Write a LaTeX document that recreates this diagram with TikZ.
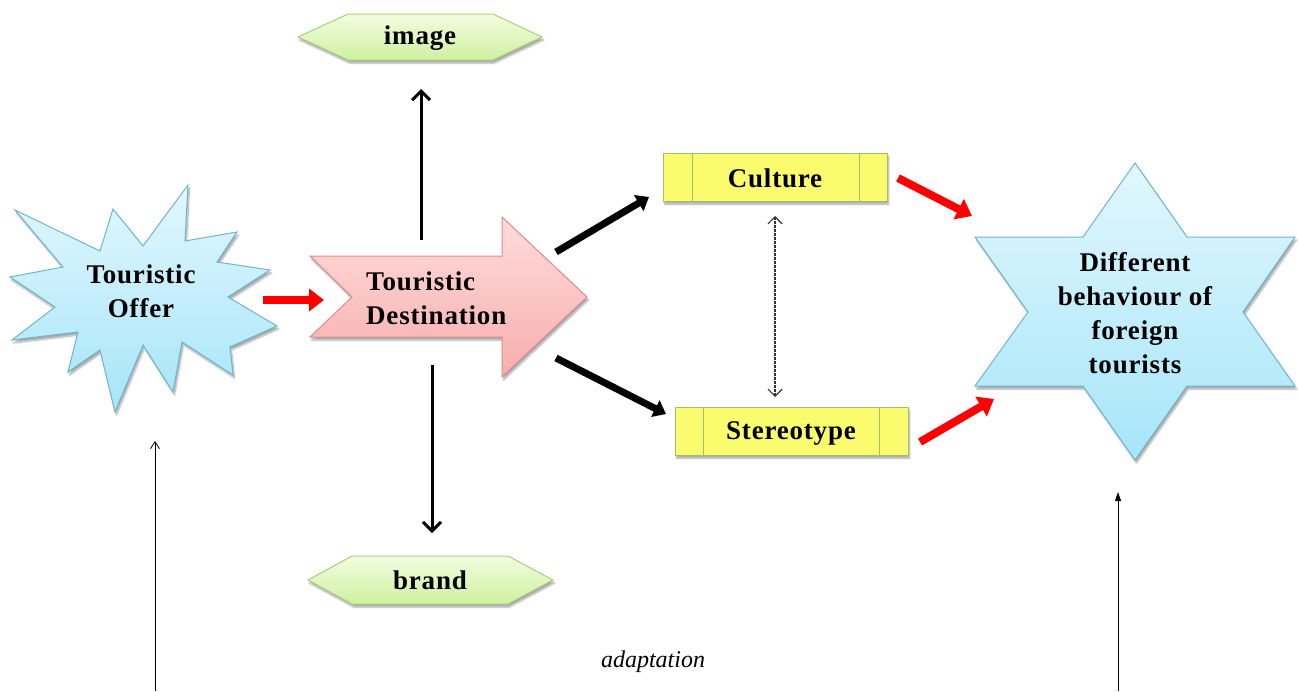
\documentclass[tikz,border=0pt]{standalone}
\usepackage{fontspec}
\setmainfont{Liberation Serif}
\usetikzlibrary{arrows.meta,shadows.blur}
\definecolor{blueTop}{HTML}{E2F7FE}
\definecolor{blueBot}{HTML}{A6E5F8}
\definecolor{blueLine}{HTML}{6DB6CE}
\definecolor{pinkTop}{HTML}{FFDCDC}
\definecolor{pinkBot}{HTML}{F7ADAD}
\definecolor{pinkLine}{HTML}{E08A8A}
\definecolor{greenTop}{HTML}{F2FDE0}
\definecolor{greenBot}{HTML}{CFF0A0}
\definecolor{greenLine}{HTML}{A9CF78}
\definecolor{yel}{HTML}{FBFB6E}
\definecolor{yelLine}{HTML}{9FC070}
\definecolor{arrRed}{HTML}{FF0000}
\begin{document}
\begin{tikzpicture}[x=1pt,y=-1pt,
  shd/.style={blur shadow={shadow xshift=1.5pt,shadow yshift=-3pt,shadow blur steps=6,shadow opacity=35}},
  bluefill/.style={top color=blueTop,bottom color=blueBot,draw=blueLine,line width=1pt,shd},
  pinkfill/.style={top color=pinkTop,bottom color=pinkBot,draw=pinkLine,line width=1pt,shd},
  greenfill/.style={top color=greenTop,bottom color=greenBot,draw=greenLine,line width=1pt,shd},
  yelbox/.style={fill=yel,draw=yelLine,line width=1pt,shd},
  lbl/.style={font=\fontsize{27}{34}\selectfont\bfseries\addfontfeatures{LetterSpace=3},inner sep=0pt,text=black},
  redarr/.style={draw=arrRed,line width=8pt,-{Triangle[length=15pt,width=22pt]}},
  blkthick/.style={draw=black,line width=7pt,-{Triangle[length=12pt,width=18pt]}},
  blkmid/.style={draw=black,line width=3pt,-{Straight Barb[length=9pt,width=18pt]}},
  thinopen/.style={draw=black,line width=0.8pt,-{Straight Barb[length=7pt,width=9pt]}},
  thinfill/.style={draw=black,line width=0.8pt,-{Triangle[length=9pt,width=6pt]}},
  dotarr/.style={draw=black!80,line width=1.2pt,dash pattern=on 2.5pt off 1.5pt,{Straight Barb[length=7pt,width=14pt]}-{Straight Barb[length=7pt,width=14pt]}}
]
\useasboundingbox (0,0) rectangle (1298,691);

% Touristic Offer starburst
\path[bluefill] (15,210) -- (100,251) -- (113,209) -- (143,246) -- (188,185) -- (185,241)
  -- (237,232) -- (217,262) -- (270,270) -- (228,297) -- (277,326) -- (230,347)
  -- (233,375) -- (182,342) -- (173,392) -- (143,345) -- (115,412) -- (100,350)
  -- (68,372) -- (78,332) -- (12,340) -- (55,307) -- (10,277) -- (63,267) -- cycle;
\node[lbl,align=center] (offer) at (141,291) {Touristic\\Offer};

% Touristic Destination arrow shape
\path[pinkfill] (310,256) -- (502,256) -- (502,217) -- (587,297) -- (502,377) -- (502,337)
  -- (310,337) -- (352,297) -- cycle;
\node[lbl,align=left,anchor=west] (dest) at (366,298) {Touristic\\Destination};

% image / brand hexagons
\path[greenfill] (298,37) -- (348,14) -- (493,14) -- (542,37) -- (493,60) -- (348,60) -- cycle;
\node[lbl] (image) at (420,38) {image};
\path[greenfill] (308,580) -- (352,556) -- (508,556) -- (553,580) -- (508,604) -- (352,604) -- cycle;
\node[lbl] (brand) at (430,580) {brand};

% Culture / Stereotype boxes
\path[yelbox] (663,153) rectangle (887,201);
\draw[yelLine,line width=1pt] (692,153) -- (692,201) (859,153) -- (859,201);
\node[lbl] (culture) at (775,178) {Culture};
\path[yelbox] (675,407) rectangle (908,455);
\draw[yelLine,line width=1pt] (703,407) -- (703,455) (879,407) -- (879,455);
\node[lbl] (stereo) at (791,433) {Stereotype};

% Star of David
\path[bluefill] (1135,163) -- (1187,237) -- (1295,237) -- (1243,312) -- (1295,386) -- (1187,386)
  -- (1135,460) -- (1083,386) -- (975,386) -- (1028,312) -- (975,237) -- (1083,237) -- cycle;
\node[lbl,align=center] (behav) at (1135,313) {Different\\behaviour of\\foreign\\tourists};

% adaptation
\node[font=\fontsize{24}{26}\selectfont\itshape,inner sep=0pt] (adapt) at (653,662) {adaptation};

% connector end points
\coordinate (o1) at (263,300);  \coordinate (d1) at (324,300);
\coordinate (d2) at (421,240);  \coordinate (i1) at (421,89);
\coordinate (d3) at (432,365);  \coordinate (b1) at (432,533);
\coordinate (d4) at (556,252);  \coordinate (c1) at (649,197);
\coordinate (d5) at (556,358);  \coordinate (s1) at (666,414);
\coordinate (c2) at (898,178);  \coordinate (t1) at (972,216);
\coordinate (s2) at (920,442);  \coordinate (t2) at (994,399);
\coordinate (c3) at (775,216);  \coordinate (s3) at (775,397);
\coordinate (l0) at (155,691);  \coordinate (l1) at (155,441);
\coordinate (r0) at (1118,691); \coordinate (r1) at (1118,492);

\draw[redarr] (o1) -- (d1);
\draw[blkmid] (d2) -- (i1);
\draw[blkmid] (d3) -- (b1);
\draw[blkthick] (d4) -- (c1);
\draw[blkthick] (d5) -- (s1);
\draw[redarr] (c2) -- (t1);
\draw[redarr] (s2) -- (t2);
\draw[dotarr] (c3) -- (s3);
\draw[thinopen] (l0) -- (l1);
\draw[thinfill] (r0) -- (r1);
\end{tikzpicture}
\end{document}
